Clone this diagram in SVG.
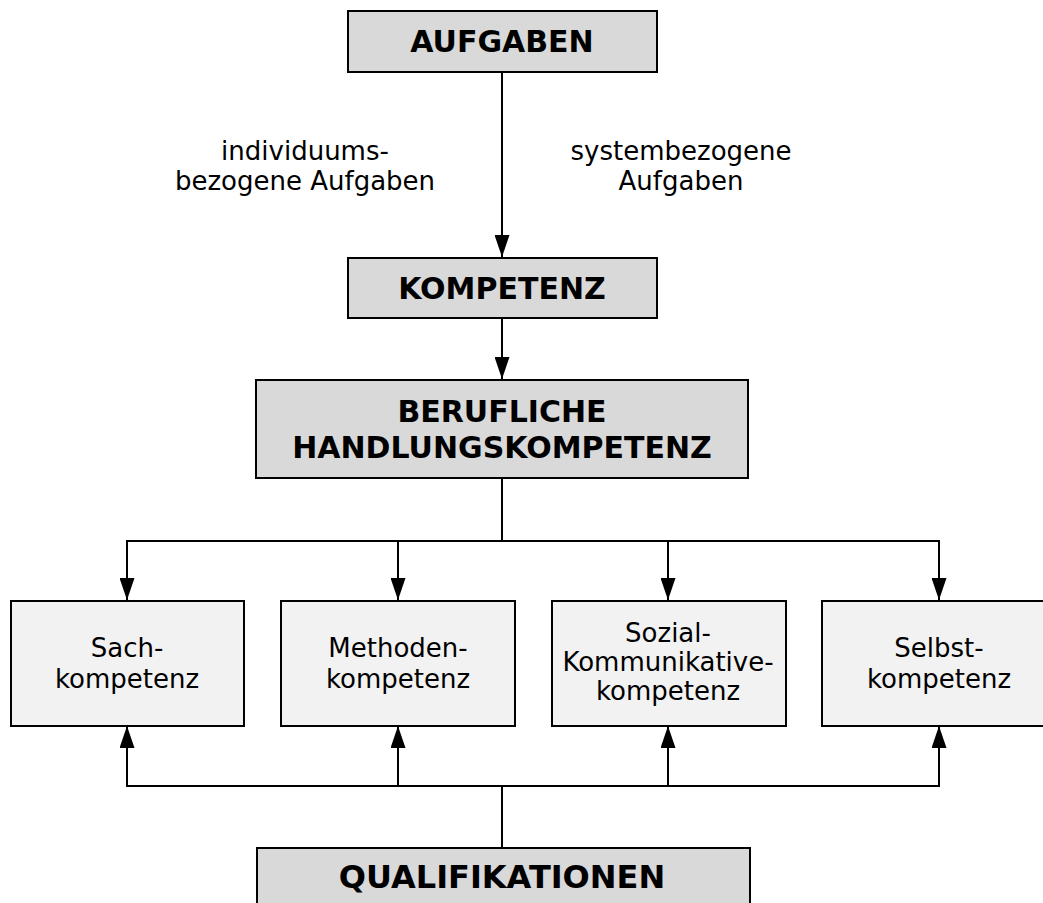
<svg xmlns="http://www.w3.org/2000/svg" width="1043" height="903" viewBox="0 0 1043 903">
<style>
.main{fill:#d9d9d9;stroke:#000;stroke-width:2}
.sub{fill:#f2f2f2;stroke:#000;stroke-width:2}
.b{font-family:"DejaVu Sans",Verdana,sans-serif;font-weight:bold;font-size:30px;fill:#000;text-anchor:middle}
.n{font-family:"DejaVu Sans",Verdana,sans-serif;font-size:26px;fill:#000;text-anchor:middle}
.c{fill:none;stroke:#000;stroke-width:2}
</style>
<defs>
<marker id="ah" markerWidth="22" markerHeight="15" refX="22" refY="7.5" orient="auto" markerUnits="userSpaceOnUse" viewBox="0 0 22 15">
<path d="M0,0 L22,7.5 L0,15 Z" fill="#000"/>
</marker>
</defs>
<rect width="1043" height="903" fill="#fff"/>
<g id="connectors">
<line class="c" x1="502" y1="72" x2="502" y2="257" marker-end="url(#ah)"/>
<line class="c" x1="502" y1="318" x2="502" y2="379" marker-end="url(#ah)"/>
<polyline class="c" points="502,478 502,541"/>
<polyline class="c" points="127,541 939,541"/>
<line class="c" x1="127" y1="540" x2="127" y2="600" marker-end="url(#ah)"/>
<line class="c" x1="398" y1="541" x2="398" y2="600" marker-end="url(#ah)"/>
<line class="c" x1="668" y1="541" x2="668" y2="600" marker-end="url(#ah)"/>
<line class="c" x1="939" y1="540" x2="939" y2="600" marker-end="url(#ah)"/>
<polyline class="c" points="502,848 502,786"/>
<polyline class="c" points="127,786 939,786"/>
<line class="c" x1="127" y1="787" x2="127" y2="726" marker-end="url(#ah)"/>
<line class="c" x1="398" y1="786" x2="398" y2="726" marker-end="url(#ah)"/>
<line class="c" x1="668" y1="786" x2="668" y2="726" marker-end="url(#ah)"/>
<line class="c" x1="939" y1="787" x2="939" y2="726" marker-end="url(#ah)"/>
</g>
<g id="lbl-individuum">
<text class="n" x="305" y="160">individuums-</text>
<text class="n" x="305" y="190">bezogene Aufgaben</text>
</g>
<g id="lbl-system">
<text class="n" x="681" y="160">systembezogene</text>
<text class="n" x="681" y="190">Aufgaben</text>
</g>
<g id="aufgaben">
<rect class="main" x="348" y="11" width="309" height="61"/>
<text class="b" x="502" y="52">AUFGABEN</text>
</g>
<g id="kompetenz">
<rect class="main" x="348" y="258" width="309" height="60"/>
<text class="b" x="502" y="299">KOMPETENZ</text>
</g>
<g id="berufliche">
<rect class="main" x="256" y="380" width="492" height="98"/>
<text class="b" x="502" y="422">BERUFLICHE</text>
<text class="b" x="502" y="458">HANDLUNGSKOMPETENZ</text>
</g>
<g id="sach">
<rect class="sub" x="11" y="601" width="233" height="125"/>
<text class="n" x="127" y="657">Sach-</text>
<text class="n" x="127" y="688">kompetenz</text>
</g>
<g id="methoden">
<rect class="sub" x="281" y="601" width="234" height="125"/>
<text class="n" x="398" y="657">Methoden-</text>
<text class="n" x="398" y="688">kompetenz</text>
</g>
<g id="sozial">
<rect class="sub" x="552" y="601" width="234" height="125"/>
<text class="n" x="668" y="642">Sozial-</text>
<text class="n" x="668" y="671">Kommunikative-</text>
<text class="n" x="668" y="700">kompetenz</text>
</g>
<g id="selbst">
<rect class="sub" x="822" y="601" width="234" height="125"/>
<text class="n" x="939" y="657">Selbst-</text>
<text class="n" x="939" y="688">kompetenz</text>
</g>
<g id="qualifikationen">
<rect class="main" x="257" y="848" width="493" height="70"/>
<text class="b" x="502" y="888" style="font-size:32px">QUALIFIKATIONEN</text>
</g>
</svg>
